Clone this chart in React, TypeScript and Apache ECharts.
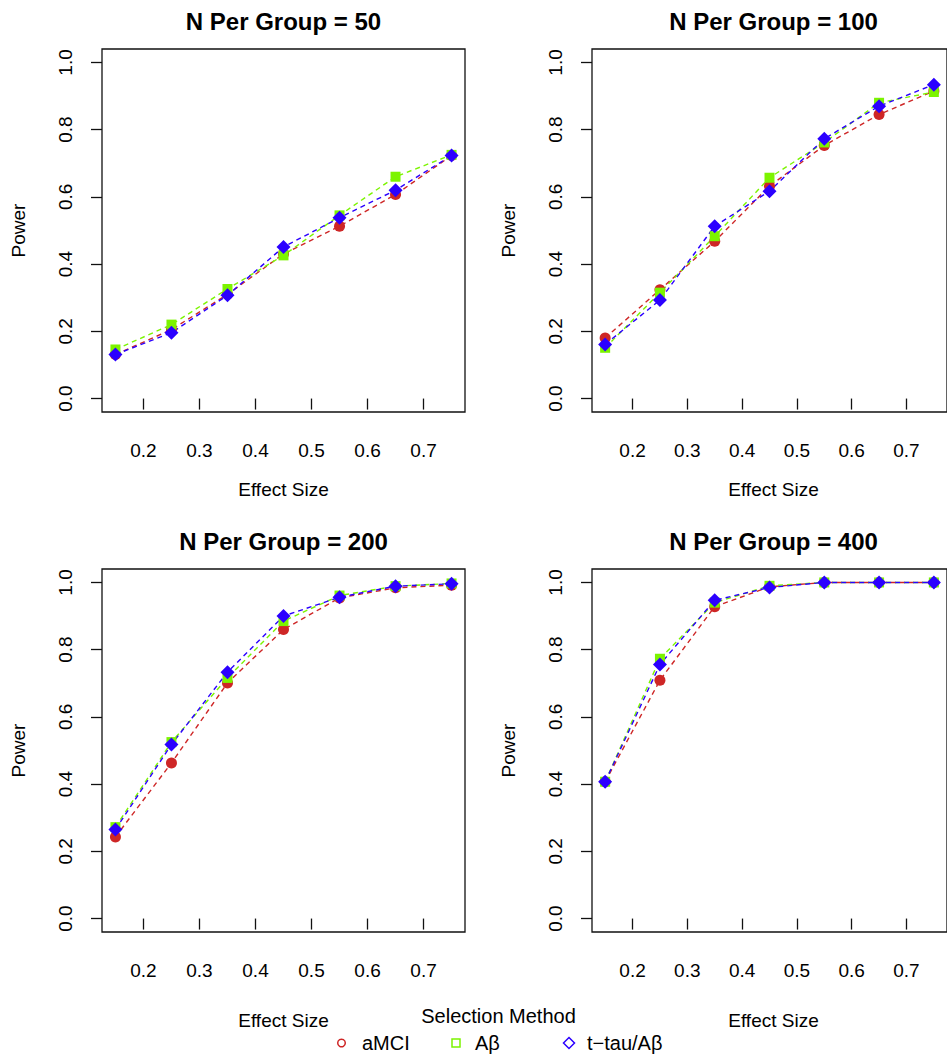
import React, { useEffect, useRef } from "react";
import * as echarts from "echarts";

// ---- data ----
const effectSizes = [0.15, 0.25, 0.35, 0.45, 0.55, 0.65, 0.75];
const xTicks = [0.2, 0.3, 0.4, 0.5, 0.6, 0.7];
const yTicks = [0, 0.2, 0.4, 0.6, 0.8, 1.0];
const panelTitles = ["N Per Group = 50", "N Per Group = 100", "N Per Group = 200", "N Per Group = 400"];
const seriesNames = ["aMCI", "Aβ", "t−tau/Aβ"];

const n50_aMCI = [0.131, 0.205, 0.31, 0.43, 0.513, 0.607, 0.723];
const n50_Ab = [0.146, 0.22, 0.326, 0.426, 0.545, 0.66, 0.725];
const n50_tau = [0.131, 0.196, 0.307, 0.451, 0.538, 0.62, 0.723];

const n100_aMCI = [0.18, 0.324, 0.468, 0.632, 0.753, 0.845, 0.915];
const n100_Ab = [0.151, 0.315, 0.483, 0.657, 0.762, 0.88, 0.912];
const n100_tau = [0.161, 0.293, 0.513, 0.617, 0.773, 0.87, 0.934];

const n200_aMCI = [0.243, 0.463, 0.701, 0.86, 0.954, 0.984, 0.992];
const n200_Ab = [0.272, 0.525, 0.716, 0.885, 0.961, 0.989, 0.997];
const n200_tau = [0.265, 0.518, 0.733, 0.9, 0.956, 0.989, 0.996];

const n400_aMCI = [0.407, 0.709, 0.928, 0.987, 1.0, 1.0, 1.0];
const n400_Ab = [0.407, 0.773, 0.94, 0.99, 1.0, 1.0, 1.0];
const n400_tau = [0.407, 0.756, 0.947, 0.985, 1.0, 1.0, 1.0];

const panelData = [
  [n50_aMCI, n50_Ab, n50_tau],
  [n100_aMCI, n100_Ab, n100_tau],
  [n200_aMCI, n200_Ab, n200_tau],
  [n400_aMCI, n400_Ab, n400_tau],
];

// ---- styles ----
const FONT = "'Liberation Sans', Arial, Helvetica, sans-serif";
const colors = ["#CE2626", "#7CF400", "#2B00FF"];
const symbols = ["circle", "rect", "diamond"];
const symbolSizes: any[] = [11, 10, [14, 14]];

const panelPos = [
  { left: 102, top: 49 },
  { left: 592, top: 49 },
  { left: 102, top: 569 },
  { left: 592, top: 569 },
];
const PW = 363;
const PH = 363;

export default function App() {
  const ref = useRef<HTMLDivElement>(null);

  useEffect(() => {
    if (!ref.current) return;
    const chart = echarts.init(ref.current, null, { renderer: "svg" });

    const grid = panelPos.map((p) => ({
      left: p.left,
      top: p.top,
      width: PW,
      height: PH,
      show: true,
      borderColor: "#111",
      borderWidth: 1.3,
      backgroundColor: "transparent",
      containLabel: false,
    }));

    const xAxis = panelPos.map((_, i) => ({
      type: "value",
      gridIndex: i,
      min: 0.126,
      max: 0.774,
      splitLine: { show: false },
      axisLine: { show: false },
      axisTick: {
        show: true,
        length: 11,
        customValues: xTicks,
        lineStyle: { color: "#111", width: 1.3 },
      },
      axisLabel: {
        customValues: xTicks,
        formatter: (v: number) => v.toFixed(1),
        fontSize: 19,
        fontFamily: FONT,
        color: "#000",
        margin: 29,
      },
    }));

    const yAxis = panelPos.map((_, i) => ({
      type: "value",
      gridIndex: i,
      min: -0.04,
      max: 1.04,
      splitLine: { show: false },
      axisLine: { show: false },
      axisTick: {
        show: true,
        length: 11,
        customValues: yTicks,
        lineStyle: { color: "#111", width: 1.3 },
      },
      axisLabel: {
        customValues: yTicks,
        formatter: (v: number) => v.toFixed(1),
        rotate: 90,
        fontSize: 19,
        fontFamily: FONT,
        color: "#000",
        margin: 27,
      },
    }));

    const series: any[] = [];
    panelData.forEach((arrs, pi) => {
      arrs.forEach((vals, si) => {
        series.push({
          type: "line",
          name: seriesNames[si],
          xAxisIndex: pi,
          yAxisIndex: pi,
          data: effectSizes.map((x, k) => [x, vals[k]]),
          symbol: symbols[si],
          symbolSize: symbolSizes[si],
          showSymbol: true,
          lineStyle: { color: colors[si], width: 1.4, type: [5, 4] },
          itemStyle: { color: colors[si], borderWidth: 0 },
          emphasis: { disabled: true },
          clip: false,
        });
      });
    });

    const txt = (text: string, x: number, y: number, size: number, opts: any = {}) => ({
      type: "text",
      x,
      y,
      rotation: opts.rotation || 0,
      style: {
        text,
        font: `${opts.bold ? "bold " : ""}${size}px ${FONT}`,
        fill: "#000",
        align: opts.align || "center",
        textAlign: opts.align || "center",
        verticalAlign: "middle",
        textVerticalAlign: "middle",
      },
    });

    const graphic: any[] = [];
    panelPos.forEach((p, i) => {
      const cx = p.left + PW / 2;
      const cy = p.top + PH / 2;
      graphic.push(txt(panelTitles[i], cx, p.top - 27.5, 24, { bold: true }));
      graphic.push(txt("Power", p.left - 84, cy, 19, { rotation: Math.PI / 2 }));
    });
    graphic.push(txt("Effect Size", 283.5, 489, 19));
    graphic.push(txt("Effect Size", 773.5, 489, 19));
    graphic.push(txt("Effect Size", 283.5, 1020, 19));
    graphic.push(txt("Effect Size", 773.5, 1020, 19));
    graphic.push(txt("Selection Method", 498.5, 1016, 20));

    // legend row
    const ly = 1043;
    graphic.push({
      type: "circle",
      shape: { cx: 341.5, cy: ly, r: 3.8 },
      style: { fill: "none", stroke: colors[0], lineWidth: 1.5 },
    });
    graphic.push(txt(seriesNames[0], 362, ly, 20, { align: "left" }));
    graphic.push({
      type: "rect",
      shape: { x: 452, y: ly - 4, width: 8, height: 8 },
      style: { fill: "none", stroke: colors[1], lineWidth: 1.5 },
    });
    graphic.push(txt(seriesNames[1], 475, ly, 20, { align: "left" }));
    graphic.push({
      type: "polygon",
      shape: { points: [[569, ly - 5.5], [574.5, ly], [569, ly + 5.5], [563.5, ly]] },
      style: { fill: "none", stroke: colors[2], lineWidth: 1.5 },
    });
    graphic.push(txt(seriesNames[2], 587, ly, 20, { align: "left" }));

    chart.setOption({
      animation: false,
      backgroundColor: "#fff",
      grid,
      xAxis,
      yAxis,
      series,
      graphic,
    });

    return () => chart.dispose();
  }, []);

  return (
    <div
      ref={ref}
      style={{ position: "absolute", left: 0, top: 0, width: 947, height: 1055, overflow: "hidden" }}
    />
  );
}
